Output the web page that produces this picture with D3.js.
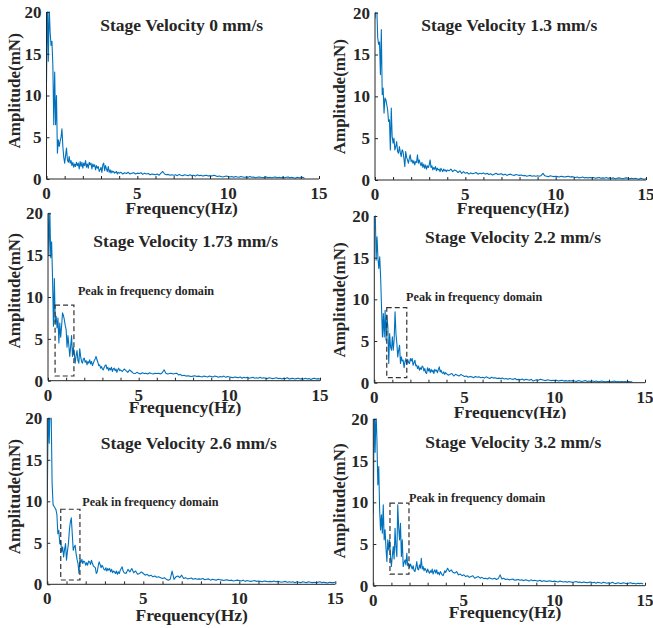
<!DOCTYPE html>
<html>
<head>
<meta charset="utf-8">
<script src="https://cdn.jsdelivr.net/npm/d3@7"></script>
<style>
  html, body { margin: 0; padding: 0; background: #fff; }
  svg { display: block; }
  text { font-family: "Liberation Serif", "Times New Roman", serif; font-weight: bold; fill: #262626; }
</style>
</head>
<body>
<svg id="fig" width="653" height="628"></svg>
<script>
// Amplitude spectra of the measured force at six stage velocities.
// Bins are 0.05 Hz wide from 0 to 3.95 Hz (80 bins), then 0.1 Hz wide from 4 Hz on.
const fineStep = 0.05, fineCount = 80, coarseStart = 4, coarseStep = 0.1;

const velocities = ["0", "1.3", "1.73", "2.2", "2.6", "3.2"];
const xTicks = [0, 5, 10, 15];
const xMinorTicks = d3.range(0, 16);
const yTicks = [0, 5, 10, 15, 20];

const ampV0 = [
  11.6, 22, 14.1, 20.5, 17.6, 16.0, 16.5, 13.6, 6.5, 12.8,
  6.5, 10.0, 3.1, 4.7, 3.9, 4.5, 5.0, 6.0, 3.9, 2.6,
  1.9, 2.8, 3.7, 2.3, 2.0, 2.7, 1.9, 2.2, 1.6, 2.0,
  1.4, 1.8, 1.5, 2.0, 1.6, 1.9, 1.2, 2.1, 1.5, 2.0,
  1.3, 1.9, 1.6, 2.2, 1.4, 1.8, 1.3, 2.0, 1.7, 1.9,
  1.2, 1.8, 1.5, 1.7, 1.1, 1.6, 1.3, 1.5, 0.9, 1.1,
  1.4, 0.8, 1.7, 1.9, 1.0, 1.6, 1.2, 0.9, 1.5, 0.8,
  1.1, 0.7, 1.0, 0.8, 0.9, 0.7, 0.8, 0.9, 0.6, 0.8,
  0.7, 0.8, 0.6, 0.75, 0.65, 0.8, 0.6, 0.7, 0.75, 0.6,
  0.7, 0.65, 0.75, 0.55, 0.7, 0.6, 0.65, 0.5, 0.6, 0.55,
  0.5, 0.6, 0.45, 0.7, 0.9, 0.6, 0.5, 0.55, 0.45, 0.5,
  0.45, 0.5, 0.4, 0.55, 0.45, 0.4, 0.5, 0.45, 0.4, 0.5,
  0.4, 0.45, 0.35, 0.5, 0.4, 0.45, 0.35, 0.4, 0.45, 0.35,
  0.4, 0.35, 0.45, 0.4, 0.3, 0.35, 0.3, 0.25, 0.3, 0.35,
  0.3, 0.25, 0.3, 0.2, 0.3, 0.25, 0.2, 0.3, 0.25, 0.2,
  0.25, 0.2, 0.3, 0.2, 0.25, 0.15, 0.2, 0.25, 0.2, 0.15,
  0.2, 0.25, 0.15, 0.2, 0.15, 0.2, 0.25, 0.15, 0.2, 0.15,
  0.2, 0.15, 0.2, 0.25, 0.15, 0.2, 0.15, 0.1, 0.2, 0.15,
  0.15, 0.2, 0.1
];

const ampV13 = [
  19.3, 21, 20.5, 17.0, 16.2, 16.5, 12.6, 18.0, 10.2, 11.0,
  8.0, 9.8, 9.6, 9.0, 8.4, 7.0, 7.2, 3.6, 8.6, 5.2,
  4.4, 5.0, 3.6, 4.0, 4.6, 3.4, 3.2, 4.0, 3.3, 2.8,
  3.6, 3.4, 2.6, 1.6, 3.4, 2.7, 2.4, 2.0, 2.6, 3.0,
  2.2, 2.4, 2.0, 2.3, 1.8, 2.2, 2.1, 3.0, 2.0, 2.4,
  2.0, 1.7, 2.1, 1.5, 1.9, 1.4, 1.8, 1.3, 1.7, 1.5,
  1.8, 2.4, 1.5, 1.7, 1.2, 1.5, 1.3, 1.6, 1.1, 1.4,
  1.2, 1.3, 1.0, 1.4, 1.2, 1.0, 1.3, 1.1, 1.2, 1.0,
  1.2, 1.1, 1.3, 1.0, 1.2, 1.1, 0.9, 1.1, 0.8, 1.0,
  0.8, 0.9, 0.7, 0.85, 0.75, 0.8, 0.9, 0.7, 0.8, 0.75,
  0.85, 0.7, 0.8, 0.65, 0.75, 0.6, 0.7, 0.8, 0.65, 0.7,
  0.75, 0.6, 0.7, 0.55, 0.65, 0.7, 0.6, 0.55, 0.65, 0.6,
  0.55, 0.6, 0.5, 0.55, 0.45, 0.5, 0.55, 0.45, 0.5, 0.45,
  0.5, 0.45, 0.55, 0.8, 0.5, 0.45, 0.4, 0.5, 0.45, 0.4,
  0.45, 0.4, 0.35, 0.45, 0.4, 0.35, 0.4, 0.45, 0.35, 0.4,
  0.35, 0.3, 0.35, 0.25, 0.3, 0.35, 0.25, 0.3, 0.25, 0.3,
  0.25, 0.3, 0.2, 0.25, 0.3, 0.2, 0.25, 0.2, 0.3, 0.2,
  0.25, 0.2, 0.25, 0.15, 0.2, 0.25, 0.2, 0.15, 0.2, 0.25,
  0.2, 0.15, 0.2, 0.15, 0.2, 0.15, 0.1, 0.2, 0.15, 0.1, 0.15
];

const ampV173 = [
  21, 15.0, 20.5, 14.7, 16.6, 12.3, 6.5, 12.2, 6.9, 7.7,
  6.3, 7.5, 4.5, 6.9, 5.2, 6.5, 8.1, 7.8, 7.3, 6.6,
  6.1, 4.0, 5.4, 4.2, 2.9, 4.1, 5.4, 2.9, 4.0, 3.2,
  2.1, 3.0, 3.6, 2.4, 2.1, 3.8, 2.9, 2.3, 2.1, 2.6,
  2.7, 2.2, 2.4, 1.9, 2.3, 2.1, 2.5, 2.0, 2.3, 1.8,
  2.1, 2.4, 2.6, 2.9, 2.5, 2.2, 1.8, 1.9, 1.5, 1.7,
  1.4, 1.3, 1.6, 1.8, 1.9, 1.4, 1.6, 1.2, 1.5, 1.3,
  1.6, 1.1, 1.4, 1.5, 1.2, 1.4, 1.0, 1.3, 1.5, 1.2,
  1.3, 1.1, 1.4, 1.2, 1.0, 1.3, 1.1, 0.9, 0.85, 1.0,
  0.9, 0.8, 0.95, 0.85, 0.9, 0.8, 0.95, 0.85, 0.8, 0.9,
  0.85, 0.9, 0.8, 0.95, 1.3, 0.9, 0.8, 0.85, 0.9, 0.8,
  0.85, 0.9, 0.7, 0.75, 0.6, 0.65, 0.55, 0.6, 0.55, 0.5,
  0.55, 0.6, 0.5, 0.55, 0.5, 0.45, 0.55, 0.5, 0.45, 0.55,
  0.5, 0.45, 0.55, 0.5, 0.4, 0.5, 0.45, 0.55, 0.4, 0.5,
  0.45, 0.4, 0.35, 0.45, 0.4, 0.35, 0.45, 0.3, 0.4, 0.35,
  0.4, 0.3, 0.35, 0.4, 0.3, 0.35, 0.3, 0.4, 0.3, 0.35,
  0.3, 0.25, 0.35, 0.3, 0.25, 0.3, 0.35, 0.25, 0.3, 0.2,
  0.3, 0.25, 0.35, 0.2, 0.25, 0.3, 0.2, 0.25, 0.3, 0.2,
  0.25, 0.2, 0.3, 0.2, 0.25, 0.15, 0.25, 0.3, 0.2, 0.25, 0.2
];

const ampV22 = [
  20.5, 21, 14.7, 17.5, 15.0, 13.7, 15.1, 12.7, 9.1, 5.5,
  8.3, 5.5, 8.7, 5.1, 8.1, 6.7, 2.3, 5.9, 4.3, 3.9,
  5.5, 3.9, 5.2, 8.5, 5.9, 4.7, 3.1, 3.9, 4.5, 2.3,
  3.1, 2.6, 2.7, 1.8, 2.5, 2.9, 2.2, 2.8, 2.4, 2.3,
  2.9, 2.6, 2.9, 2.1, 2.4, 2.7, 2.0, 2.1, 1.7, 2.0,
  1.5, 1.8, 1.6, 2.0, 1.9, 1.4, 1.7, 1.2, 1.1, 1.8,
  1.4, 1.7, 1.2, 1.6, 1.3, 1.5, 1.1, 1.6, 1.4, 1.5,
  1.2, 1.6, 1.9, 1.3, 1.5, 1.2, 1.1, 1.3, 1.0, 1.2,
  1.1, 0.9, 1.0, 1.1, 0.8, 1.0, 0.9, 0.8, 1.0, 0.85,
  0.75, 0.8, 0.65, 0.75, 0.7, 0.6, 0.75, 0.65, 0.7, 0.6,
  0.65, 0.55, 0.7, 0.6, 0.5, 0.65, 0.55, 0.6, 0.5, 0.55,
  0.5, 0.55, 0.45, 0.5, 0.4, 0.5, 0.45, 0.4, 0.5, 0.35,
  0.4, 0.35, 0.45, 0.3, 0.4, 0.35, 0.3, 0.4, 0.2, 0.3,
  0.35, 0.3, 0.4, 0.35, 0.3, 0.25, 0.35, 0.3, 0.25, 0.3,
  0.25, 0.3, 0.2, 0.25, 0.3, 0.2, 0.25, 0.2, 0.25, 0.2,
  0.25, 0.2, 0.15, 0.25, 0.2, 0.15, 0.2, 0.25, 0.15, 0.2,
  0.15, 0.2, 0.15, 0.2, 0.1, 0.15, 0.2, 0.15, 0.1, 0.15,
  0.15, 0.1, 0.15, 0.2, 0.1, 0.15, 0.1, 0.15, 0.1, 0.15,
  0.1, 0.15, 0.1, 0.12
];

const ampV26 = [
  10.2, 22, 17.0, 22, 21, 12.2, 9.6, 9.4, 9.2, 9.0,
  8.4, 6.1, 6.5, 4.9, 5.3, 3.9, 4.5, 3.3, 4.2, 4.9,
  2.9, 4.0, 4.9, 6.5, 7.5, 8.0, 6.1, 4.1, 4.5, 4.7,
  3.7, 3.0, 2.5, 1.3, 3.1, 2.6, 3.0, 2.5, 2.8, 2.7,
  2.3, 2.6, 2.3, 2.8, 2.7, 2.4, 2.9, 2.5, 2.2, 2.1,
  2.0, 1.3, 1.5, 2.2, 2.7, 2.4, 2.0, 2.3, 2.1, 1.8,
  1.7, 2.0, 1.6, 1.9, 1.7, 1.9, 1.5, 1.8, 1.4, 1.6,
  1.5, 1.3, 1.6, 1.2, 1.5, 1.3, 1.7, 1.9, 2.1, 1.6,
  1.4, 1.3, 1.8, 1.5, 1.9, 1.4, 1.6, 1.2, 1.3, 1.5,
  1.3, 1.1, 1.2, 1.0, 1.1, 0.9, 1.0, 0.85, 0.9, 0.8,
  0.7, 0.8, 0.6, 0.5, 0.6, 1.6, 0.6, 0.9, 1.0, 0.8,
  1.1, 0.7, 0.8, 0.65, 0.7, 0.75, 0.6, 0.7, 0.6, 0.65,
  0.6, 0.7, 0.55, 0.6, 0.65, 0.5, 0.6, 0.55, 0.5, 0.6,
  0.55, 0.5, 0.45, 0.55, 0.5, 0.45, 0.5, 0.4, 0.45, 0.5,
  0.45, 0.4, 0.5, 0.35, 0.45, 0.4, 0.35, 0.4, 0.45, 0.35,
  0.4, 0.35, 0.3, 0.4, 0.35, 0.3, 0.35, 0.3, 0.4, 0.3,
  0.35, 0.3, 0.25, 0.3, 0.35, 0.25, 0.3, 0.25, 0.3, 0.2,
  0.3, 0.25, 0.2, 0.3, 0.25, 0.2, 0.3, 0.25, 0.2, 0.25,
  0.2, 0.25, 0.3, 0.2, 0.25, 0.2, 0.15, 0.25, 0.2, 0.2, 0.25
];

const ampV32 = [
  8.7, 22, 16.0, 21, 17.5, 12.1, 14.3, 9.1, 6.7, 8.5,
  6.3, 9.7, 5.5, 6.7, 4.5, 2.9, 5.5, 4.3, 5.5, 3.5,
  2.3, 3.6, 4.7, 3.2, 6.9, 4.6, 3.5, 9.7, 7.0, 5.5,
  7.5, 3.5, 5.5, 2.3, 2.8, 3.1, 2.5, 3.9, 2.4, 2.7,
  2.2, 2.6, 2.3, 2.0, 2.4, 1.8, 1.7, 2.2, 2.9, 2.0,
  1.9, 2.5, 2.1, 3.3, 2.0, 2.3, 1.8, 2.1, 1.9, 1.6,
  2.0, 1.7, 1.5, 1.8, 1.6, 2.0, 1.4, 1.7, 1.9, 1.5,
  1.9, 1.4, 1.6, 1.3, 1.7, 1.5, 1.3, 1.2, 1.5, 1.8,
  1.6, 2.1, 1.7, 1.9, 1.6, 1.5, 1.7, 1.3, 1.4, 1.2,
  1.3, 1.1, 1.2, 1.0, 1.1, 1.2, 0.9, 1.0, 1.1, 0.9,
  1.0, 0.85, 0.9, 0.8, 0.95, 0.85, 0.8, 0.9, 0.75, 0.85,
  1.3, 0.8, 0.9, 0.75, 0.8, 0.7, 0.75, 0.8, 0.65, 0.7,
  0.75, 0.65, 0.7, 0.6, 0.7, 0.65, 0.55, 0.7, 0.6, 0.65,
  0.6, 0.55, 0.65, 0.5, 0.6, 0.55, 0.5, 0.6, 0.55, 0.5,
  0.55, 0.5, 0.45, 0.55, 0.5, 0.45, 0.5, 0.4, 0.5, 0.45,
  0.4, 0.45, 0.5, 0.4, 0.45, 0.35, 0.45, 0.4, 0.35, 0.4,
  0.45, 0.35, 0.4, 0.3, 0.4, 0.35, 0.3, 0.4, 0.35, 0.3,
  0.35, 0.3, 0.4, 0.3, 0.25, 0.35, 0.3, 0.25, 0.35, 0.3,
  0.25, 0.3, 0.35, 0.25, 0.3, 0.2, 0.3, 0.25, 0.3, 0.2
];

const seriesByPanel = [ampV0, ampV13, ampV173, ampV22, ampV26, ampV32];

// Dashed boxes around the spectral peak, in data units: [f0, f1, a0, a1]
const peakBoxes = [null, null, [0.39, 1.43, 0.56, 9.04], [0.69, 1.8, 0.6, 9.0], [0.7, 1.7, 0.52, 9.04], [0.92, 1.97, 1.4, 9.9]];
// Anchor of the "Peak in frequency domain" note, in data units: [f, a]
const peakNotes = [null, null, [1.65, 10.2], [1.76, 9.76], [1.82, 9.49], [1.97, 10.1]];

// Axes geometry (pixels) and label placement for each panel
const layout = [
  { l: 46.5, r: 319, t: 12,   b: 179,   title: [181.7, 30.7],  xlab: [181.7, 214],  ylab: [19.5, 90.8],  fill: false },
  { l: 375,  r: 646, t: 12.7, b: 180,   title: [509.3, 30.7],  xlab: [513, 213.5],  ylab: [345, 96.7],   fill: false },
  { l: 48,   r: 320, t: 213.3, b: 380.7, title: [185.7, 247.3], xlab: [185, 413],    ylab: [19.5, 290.8], fill: false },
  { l: 374.3, r: 645, t: 216, b: 382.7,  title: [513, 243.3],   xlab: [510, 417.5],  ylab: [345, 300],    fill: false },
  { l: 47.3, r: 335.3, t: 418.3, b: 584.3, title: [188.8, 449.3], xlab: [191.7, 620.5], ylab: [19.5, 496.7], fill: true },
  { l: 373.3, r: 645, t: 419, b: 585.7,  title: [513.3, 448.3], xlab: [505, 617.5],  ylab: [345, 501],    fill: true }
];

const lineColor = "#0072BD";
const axisColor = "#262626";
const fontSize = 17;

const binFreq = i => i < fineCount ? i * fineStep : coarseStart + (i - fineCount) * coarseStep;

const svg = d3.select("#fig");

layout.forEach((p, k) => {
  const amps = seriesByPanel[k];
  const pts = amps.map((a, i) => [binFreq(i), a]);

  const x = d3.scaleLinear().domain([0, 15]).range([p.l, p.r]);
  const y = d3.scaleLinear().domain([0, 20]).range([p.b, p.t]);

  const g = svg.append("g");

  // the lower row is painted opaque over whatever overhangs from above
  if (p.fill) {
    g.append("rect").attr("x", p.l).attr("y", p.t)
      .attr("width", p.r - p.l).attr("height", p.b - p.t).attr("fill", "#fff");
  }

  const clipId = "clip" + k;
  g.append("clipPath").attr("id", clipId)
    .append("rect").attr("x", p.l).attr("y", p.t - 0.5)
    .attr("width", p.r - p.l).attr("height", p.b - p.t + 0.5);

  g.append("path")
    .datum(pts)
    .attr("clip-path", `url(#${clipId})`)
    .attr("fill", "none")
    .attr("stroke", lineColor)
    .attr("stroke-width", 1.1)
    .attr("stroke-linejoin", "round")
    .attr("d", d3.line().x(d => x(d[0])).y(d => y(d[1])));

  // x axis: ticks every 1 Hz pointing inward, labels at 0/5/10/15
  const xAxis = d3.axisBottom(x).tickValues(xMinorTicks).tickSize(-3).tickFormat("");
  const gx = g.append("g").attr("transform", `translate(0,${p.b})`).call(xAxis);
  gx.select(".domain").attr("stroke", axisColor).attr("stroke-width", 1).attr("d", `M${p.l},0H${p.r}`);
  gx.selectAll(".tick line").attr("stroke", axisColor);

  g.selectAll(".xtl").data(xTicks).join("text")
    .attr("x", d => x(d)).attr("y", p.b + 20)
    .attr("text-anchor", "middle").attr("font-size", fontSize)
    .text(d => d);

  const yAxis = d3.axisLeft(y).tickValues(yTicks).tickSize(-3).tickFormat("");
  const gy = g.append("g").attr("transform", `translate(${p.l},0)`).call(yAxis);
  gy.select(".domain").attr("stroke", axisColor).attr("stroke-width", 1).attr("d", `M0,${p.t}V${p.b}`);
  gy.selectAll(".tick line").attr("stroke", axisColor);

  g.selectAll(".ytl").data(yTicks).join("text")
    .attr("x", p.l - 5).attr("y", d => y(d)).attr("dy", "0.35em")
    .attr("text-anchor", "end").attr("font-size", fontSize)
    .text(d => d);

  g.append("text")
    .attr("x", p.title[0]).attr("y", p.title[1])
    .attr("text-anchor", "middle").attr("font-size", fontSize + 0.5)
    .text(`Stage Velocity ${velocities[k]} mm/s`);

  g.append("text")
    .attr("x", p.xlab[0]).attr("y", p.xlab[1])
    .attr("text-anchor", "middle").attr("font-size", fontSize + 0.5)
    .text("Frequency(Hz)");

  g.append("text")
    .attr("transform", `translate(${p.ylab[0]},${p.ylab[1]}) rotate(-90)`)
    .attr("text-anchor", "middle").attr("font-size", fontSize)
    .text("Amplitude(mN)");

  const box = peakBoxes[k];
  if (box) {
    g.append("rect")
      .attr("x", x(box[0])).attr("y", y(box[3]))
      .attr("width", x(box[1]) - x(box[0])).attr("height", y(box[2]) - y(box[3]))
      .attr("fill", "none").attr("stroke", "#333")
      .attr("stroke-width", 1.2).attr("stroke-dasharray", "5,3");
  }
  const note = peakNotes[k];
  if (note) {
    g.append("text")
      .attr("x", x(note[0])).attr("y", y(note[1]))
      .attr("font-size", 12.2)
      .text("Peak in frequency domain");
  }
});
</script>
</body>
</html>
